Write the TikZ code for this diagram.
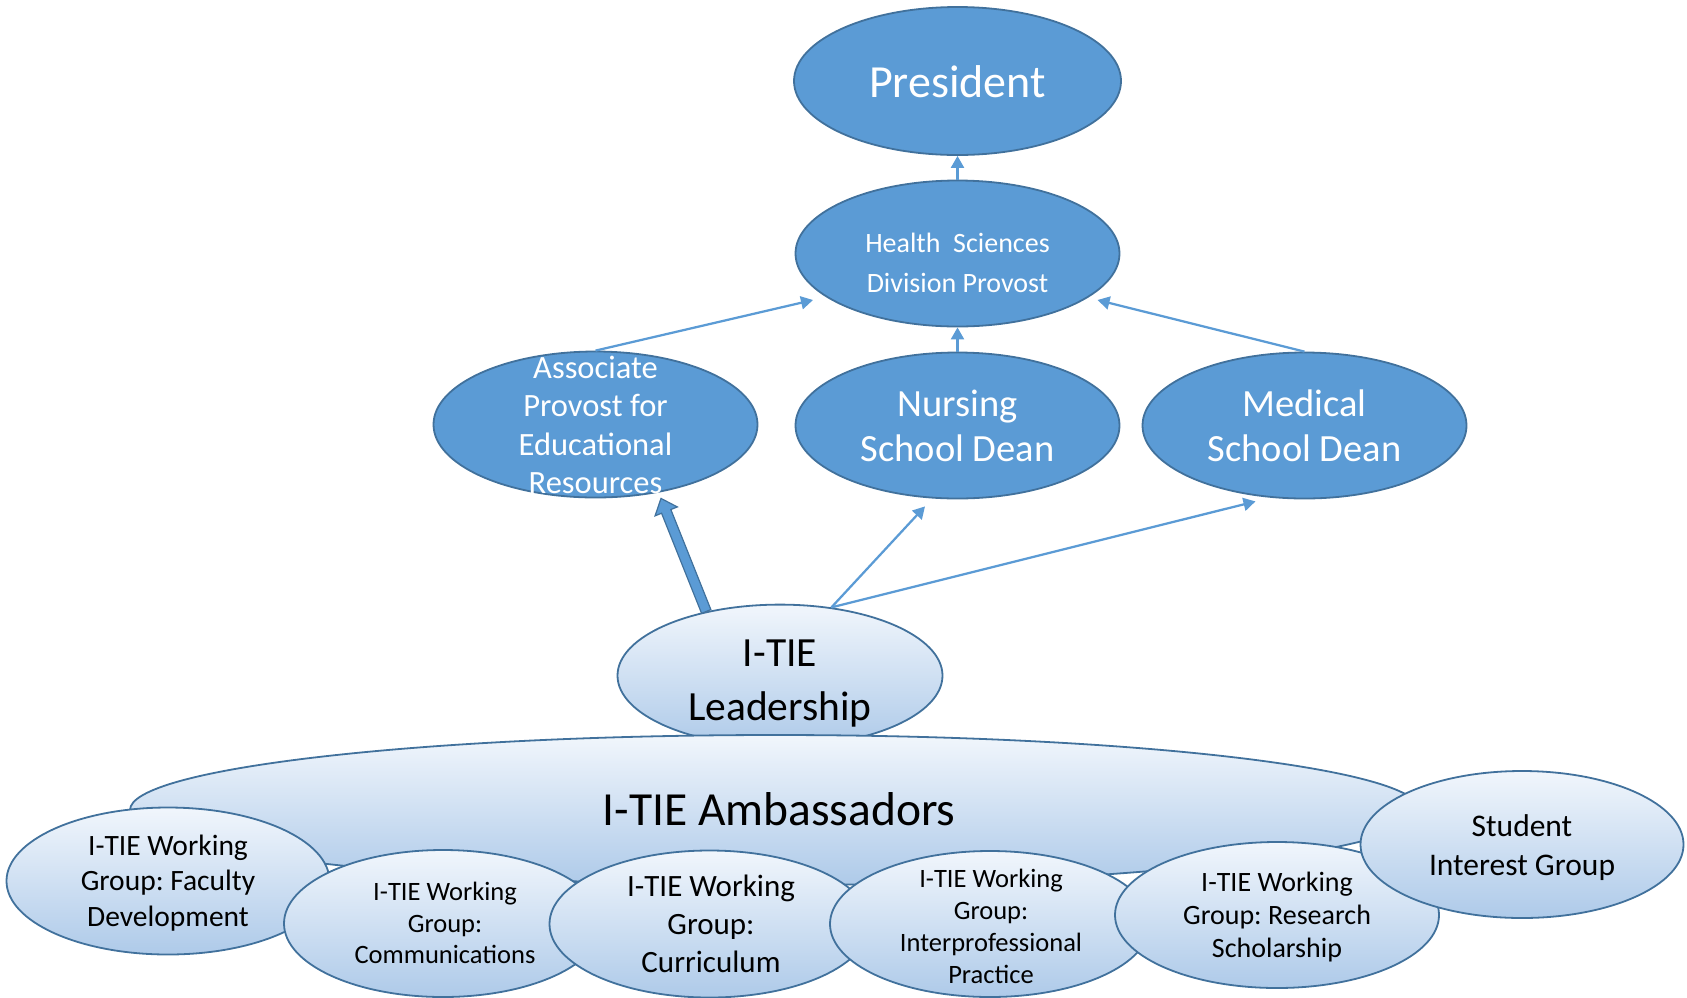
\documentclass[tikz,border=0pt]{standalone}
\usepackage{fontspec}
\setmainfont{Carlito}
\frenchspacing
\usetikzlibrary{shapes.geometric,arrows.meta,calc}
\definecolor{ofill}{RGB}{91,155,213}
\definecolor{oline}{RGB}{65,113,156}
\definecolor{gtop}{RGB}{241,246,252}
\definecolor{gbot}{RGB}{174,202,233}
\tikzset{
  topell/.style={ellipse, draw=oline, line width=1.8pt, fill=ofill, inner sep=0pt,
    minimum width=324pt, minimum height=146pt},
  lowell/.style={ellipse, draw=oline, line width=1.8pt, top color=gtop, bottom color=gbot,
    inner sep=0pt, minimum width=324pt, minimum height=146pt},
  wtxt/.style={text=white, align=center, inner sep=0pt},
  btxt/.style={text=black, align=center, inner sep=0pt},
  conn/.style={draw=ofill, line width=2.25pt, -{Triangle[length=12pt,width=13pt]}},
  bigarrow/.style={fill=ofill, draw=oline, line width=1.2pt, line join=miter}
}
\begin{document}
\begin{tikzpicture}[x=1pt,y=-1pt]
\useasboundingbox (0,0) rectangle (1687,997);
% upper nodes
\node[topell, minimum width=327pt, minimum height=148pt] (pres) at (957.5,81) {};
\node[wtxt, font=\fontsize{46}{52}\selectfont] (pres-t) at (957.5,82) {President};
\node[topell] (health) at (957.5,253.5) {};
\node[wtxt, font=\fontsize{28}{40}\selectfont] (health-t) at (957.5,263) {Health~~Sciences\\Division Provost};
\node[topell] (assoc) at (595.5,424.5) {};
\node[topell] (nurs) at (957.5,425.5) {};
\node[wtxt, font=\fontsize{38.5}{45}\selectfont] (nurs-t) at (957.5,426) {Nursing\\School Dean};
\node[topell] (med) at (1304.5,425.5) {};
\node[wtxt, font=\fontsize{38.5}{45}\selectfont] (med-t) at (1304.5,426) {Medical\\School Dean};
\node[wtxt, font=\fontsize{32.5}{38.4}\selectfont] (assoc-t) at (595.5,425) {Associate\\Provost for\\Educational\\Resources};
% lower nodes
\node[lowell, minimum width=325pt, minimum height=142pt] (lead) at (780,675.6) {};
\node[btxt, font=\fontsize{41.5}{54}\selectfont] (lead-t) at (780,684) {I-TIE\\Leadership};
\node[lowell, minimum width=1290pt, minimum height=150pt] (amb) at (775,810) {};
\node[btxt, font=\fontsize{47.5}{54}\selectfont] (amb-t) at (779,809) {I-TIE Ambassadors};
\node[lowell, minimum width=323pt, minimum height=147pt] (fac) at (168,881) {};
\node[btxt, font=\fontsize{29.5}{35.5}\selectfont] (fac-t) at (168,883) {I-TIE Working\\Group: Faculty\\Development};
\node[lowell, minimum width=318pt, minimum height=147pt] (com) at (443,923.5) {};
\node[btxt, font=\fontsize{26.5}{31.7}\selectfont] (com-t) at (445,923) {I-TIE Working\\Group:\\Communications};
\node[lowell, minimum width=320pt, minimum height=147pt] (cur) at (709.5,924) {};
\node[btxt, font=\fontsize{31}{38.2}\selectfont] (cur-t) at (711,924) {I-TIE Working\\Group:\\Curriculum};
\node[lowell, minimum width=320pt, minimum height=146pt] (ipp) at (990,924) {};
\node[btxt, font=\fontsize{26.5}{32}\selectfont] (ipp-t) at (991,926) {I-TIE Working\\Group:\\Interprofessional\\Practice};
\node[lowell] (res) at (1277,915) {};
\node[btxt, font=\fontsize{28}{33.3}\selectfont] (res-t) at (1277,917) {I-TIE Working\\Group: Research\\Scholarship};
\node[lowell, minimum width=323pt, minimum height=147pt] (stu) at (1522,844.5) {};
\node[btxt, font=\fontsize{31.5}{38.7}\selectfont] (stu-t) at (1522,847.5) {Student\\Interest Group};
% connectors
\draw[conn] (health.north) -- (pres.south);
\draw[conn] (nurs.north) -- (health.south);
\draw[conn] (assoc.north) -- ($(health.center)+(-144.5,46.5)$);
\draw[conn] (med.north) -- ($(health.center)+(140,46.5)$);
\draw[conn] (lead.53) -- ($(nurs.south)+(-32.5,7)$);
\draw[conn] (lead.53) -- ($(med.south)+(-49,2)$);
\coordinate (ts) at (lead.139);
\coordinate (ta) at ($(assoc.south)+(65.5,0)$);
\coordinate (hb) at ($(ta)!14pt!(ts)$);
\draw[bigarrow] ($(ts)!5pt!90:(ta)$) -- ($(hb)!5pt!90:(ta)$) -- ($(hb)!12pt!90:(ta)$) -- (ta)
  -- ($(hb)!12pt!-90:(ta)$) -- ($(hb)!5pt!-90:(ta)$) -- ($(ts)!5pt!-90:(ta)$) -- cycle;
\end{tikzpicture}
\end{document}
